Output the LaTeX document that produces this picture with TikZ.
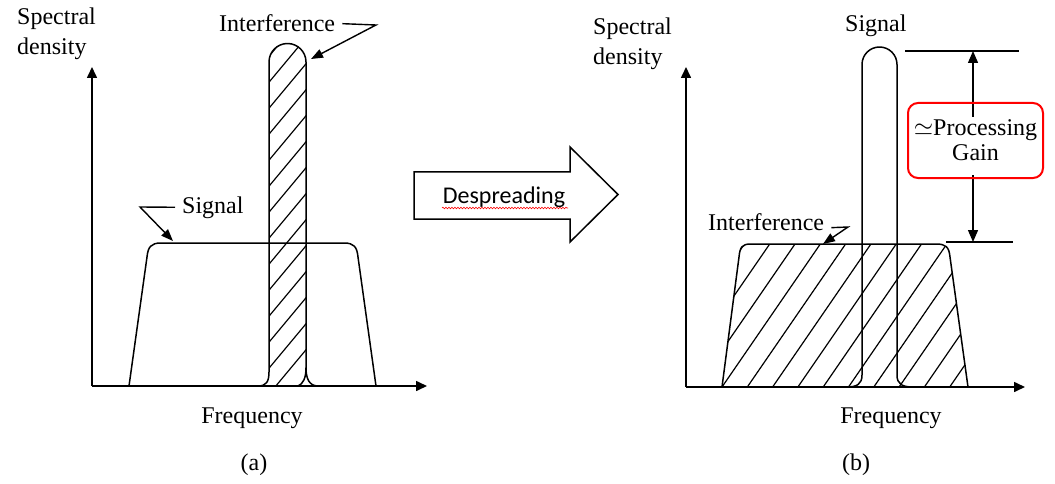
\documentclass[tikz,border=0pt]{standalone}
\usepackage{fontspec}
\setmainfont{Liberation Serif}
\newfontfamily\calib{Carlito}
\usetikzlibrary{arrows.meta,decorations.pathmorphing}
\begin{document}
\begin{tikzpicture}[x=1pt,y=-1pt,
  line/.style={line width=1.5pt,line join=round},
  axis/.style={line width=1.6pt,-{Triangle[length=11pt,width=10pt]}},
  lead/.style={line width=1.4pt,-{Triangle[length=12pt,width=9pt]}},
  dim/.style={line width=1.4pt,-{Triangle[length=12pt,width=10pt]}},
  hatch/.style={line width=1.2pt},
  lbl/.style={inner sep=0pt,font=\fontsize{24}{30}\selectfont},
  redbox/.style={draw=red,line width=2pt,rounded corners=10pt,minimum width=135pt,minimum height=75pt,align=center,inner sep=0pt,font=\fontsize{24}{25}\selectfont},
]
\useasboundingbox (0,0) rectangle (1055,484);

% ---------------- panel (a) ----------------
\coordinate (aO) at (92,386);
\coordinate (aY) at (92,67);
\coordinate (aX) at (427,386);
\draw[axis] (aO) -- (aY);
\draw[axis] (aO) -- (aX);

\node[lbl,anchor=north west,align=left] (sdA) at (17,8) {Spectral\\density};

% hatched interference spike
\begin{scope}
\clip (269,386) -- (269,62) arc[start angle=180,end angle=360,radius=18.5] -- (306,386) -- cycle;
\foreach \k in {0,...,15} \draw[hatch] (260,{405-26*\k}) -- ++(60,-72);
\end{scope}
\draw[line] (258,386) .. controls (266,386) and (269,382) .. (269,372) -- (269,62)
  arc[start angle=180,end angle=360,radius=18.5] -- (306,368);
\draw[line] (298,386) .. controls (303,384) and (306,378) .. (306,368)
  .. controls (306,378) and (309,386) .. (318,386);

% signal trapezoid
\draw[line] (129,386) -- (147,257) .. controls (148,247) and (151,243) .. (161,243)
  -- (344,243) .. controls (354,243) and (357,247) .. (358,257) -- (376,386);

\node[lbl,anchor=base west] (intA) at (219,32) {Interference};
\coordinate (intAk) at (376,25);
\coordinate (intAt) at (311,59);
\draw[lead] ([xshift=7pt]intA.east) -- (intAk) -- (intAt);

\node[lbl,anchor=base west] (sigA) at (182,213) {Signal};
\coordinate (sigAk) at (140,207);
\coordinate (sigAt) at (173,241);
\draw[lead] ([xshift=-7pt]sigA.west) -- (sigAk) -- (sigAt);

\node[lbl,anchor=base] (frA) at (252,423) {Frequency};
\node[lbl,anchor=base] (capA) at (254,470) {(a)};

% ---------------- despreading arrow ----------------
\draw[line width=1.5pt,line join=miter] (414,172) -- (570,172) -- (570,147) -- (618,194.5)
  -- (570,242) -- (570,219) -- (414,219) -- cycle;
\node[inner sep=0pt,anchor=base,font=\calib\fontsize{24}{28}\selectfont] (desp) at (504,203) {Despreading};
\draw[red,line width=0.6pt,decorate,decoration={snake,amplitude=0.8pt,segment length=3pt}]
  (442,208) -- (568,208);

% ---------------- panel (b) ----------------
\coordinate (bO) at (686,387);
\coordinate (bY) at (686,67);
\coordinate (bX) at (1025,387);
\draw[axis] (bO) -- (bY);
\draw[axis] (bO) -- (bX);

\node[lbl,anchor=north west,align=left] (sdB) at (593,18) {Spectral\\density};

% hatched interference trapezoid
\begin{scope}
\clip (722,387) -- (739,257) .. controls (740,247) and (742,244) .. (751,244)
  -- (936,244) .. controls (946,244) and (949,247) .. (950,257) -- (968,387) -- cycle;
\foreach \k in {-5,...,10} \draw[hatch] ({722+25.3*\k},387) -- ++(110,-160);
\end{scope}
\draw[line] (722,387) -- (739,257) .. controls (740,247) and (742,244) .. (751,244)
  -- (936,244) .. controls (946,244) and (949,247) .. (950,257) -- (968,387);

% signal spike
\draw[line] (847,387) .. controls (857,387) and (862,384) .. (862,375) -- (862,64.5)
  arc[start angle=180,end angle=360,radius=17.5] -- (897,375)
  .. controls (897,384) and (902,387) .. (913,387);

\node[lbl,anchor=base west] (sigB) at (845,32) {Signal};

\node[lbl,anchor=base west] (intB) at (708,230) {Interference};
\coordinate (intBk) at (848,227);
\coordinate (intBt) at (823,244);
\draw[lead] ([xshift=7pt,yshift=-6pt]intB.east) -- (intBk) -- (intBt);

% processing gain dimension
\coordinate (tl1) at (905,51);
\coordinate (tl2) at (1019,51);
\coordinate (bl1) at (946,242);
\coordinate (bl2) at (1013,242);
\draw[line] (tl1) -- (tl2);
\draw[line] (bl1) -- (bl2);
\coordinate (dimT) at (973,51);
\coordinate (dimB) at (973,242);
\coordinate (gT) at (973,117);
\coordinate (gB) at (973,175);
\draw[dim] (gT) -- (dimT);
\draw[dim] (gB) -- (dimB);
\node[redbox] (pg) at (975.5,140.5) {$\simeq$Processing\\Gain};

\node[lbl,anchor=base] (frB) at (891,423) {Frequency};
\node[lbl,anchor=base] (capB) at (856,470) {(b)};
\end{tikzpicture}
\end{document}
